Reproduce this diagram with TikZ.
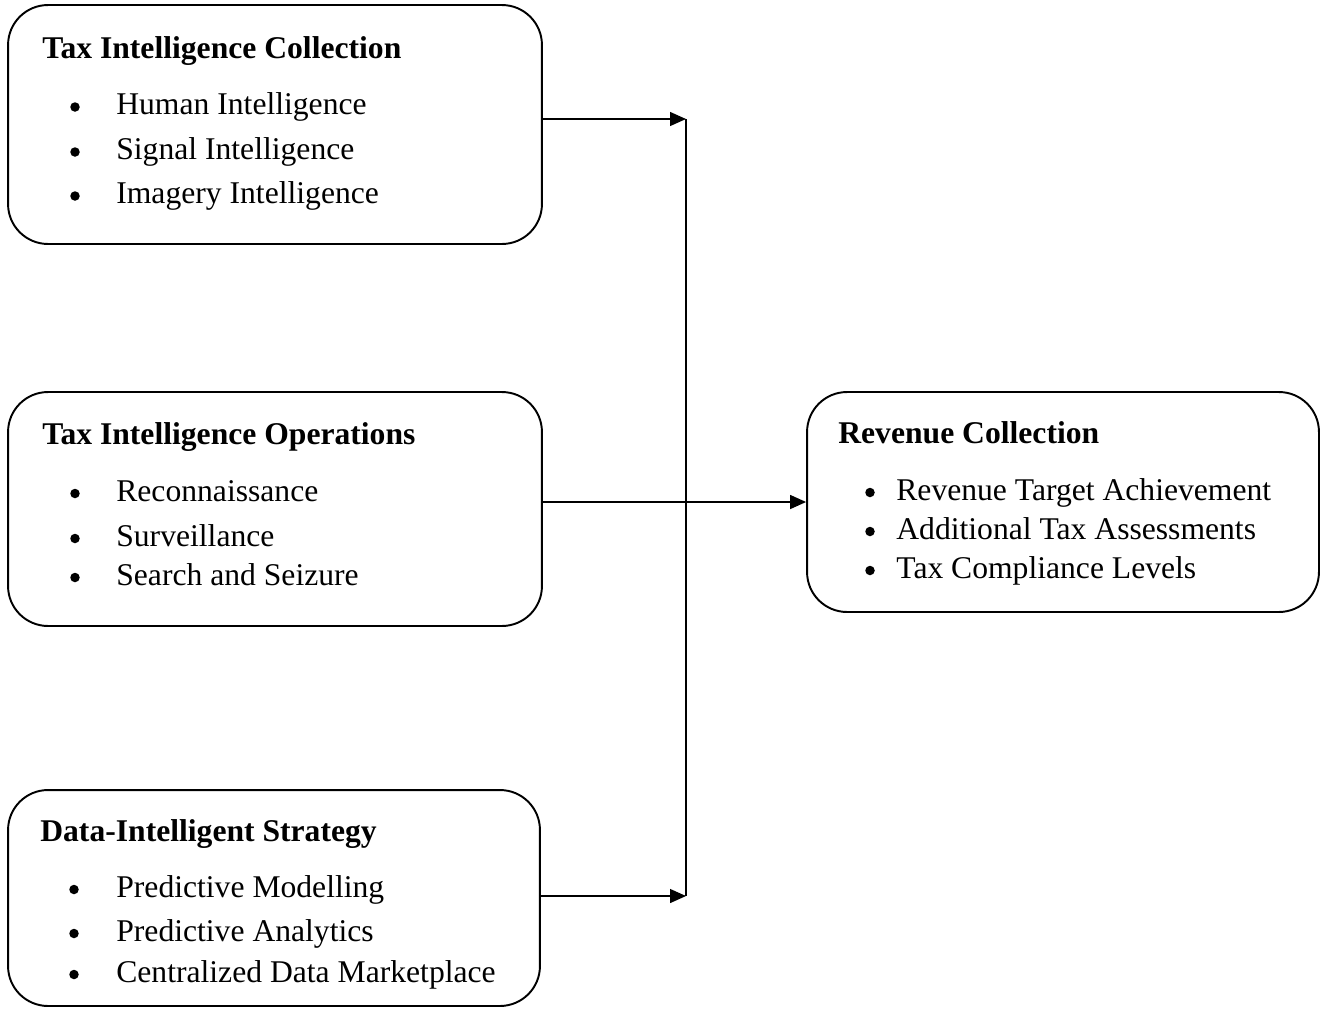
\documentclass[tikz,border=0pt]{standalone}
\usepackage{fontspec}
\setmainfont{Liberation Serif}
\usetikzlibrary{arrows.meta}

\tikzset{
  block/.style={draw, line width=1.1pt, rounded corners=0.8cm, inner sep=0pt},
  head/.style={anchor=base west, inner sep=0pt, font=\fontsize{18}{22}\selectfont\bfseries},
  item/.style={anchor=base west, inner sep=0pt, font=\fontsize{18}{22}\selectfont},
  dot/.style={circle, fill, inner sep=0pt, minimum size=0.19cm},
  flow/.style={line width=0.8pt, -{Triangle[length=0.32cm,width=0.28cm]}}
}

\begin{document}
\begin{tikzpicture}[x=0.02cm, y=-0.02cm]
  \useasboundingbox (0,0) rectangle (1321,1008);

  % Boxes
  \node[block, minimum width=10.68cm, minimum height=4.78cm] (collect) at (275,124.5) {};
  \node[block, minimum width=10.68cm, minimum height=4.68cm] (ops) at (275,509) {};
  \node[block, minimum width=10.64cm, minimum height=4.32cm] (data) at (274,898) {};
  \node[block, minimum width=10.24cm, minimum height=4.40cm] (revenue) at (1063,502) {};

  % Headings
  \node[head] (collecthead) at (42,58) {Tax Intelligence Collection};
  \node[head] (opshead) at (42,444) {Tax Intelligence Operations};
  \node[head] (datahead) at (40,841) {Data-Intelligent Strategy};
  \node[head] (revenuehead) at (838,443) {Revenue Collection};

  % Bullet lists
  \foreach \y/\txt [count=\i] in {114.5/Human Intelligence, 159.5/Signal Intelligence, 203.5/Imagery Intelligence}{
    \node[dot] (collectdot\i) at (75,\y-7.5) {};
    \node[item] (collectitem\i) at (116,\y) {\txt};
  }
  \foreach \y/\txt [count=\i] in {501/Reconnaissance, 546/Surveillance, 585/Search and Seizure}{
    \node[dot] (opsdot\i) at (75,\y-7.5) {};
    \node[item] (opsitem\i) at (116,\y) {\txt};
  }
  \foreach \y/\txt [count=\i] in {897/Predictive Modelling, 941/Predictive Analytics, 982/Centralized Data Marketplace}{
    \node[dot] (datadot\i) at (74,\y-7.5) {};
    \node[item] (dataitem\i) at (116,\y) {\txt};
  }
  \foreach \y/\txt [count=\i] in {500/Revenue Target Achievement, 539/Additional Tax Assessments, 578/Tax Compliance Levels}{
    \node[dot] (revenuedot\i) at (870,\y-7.5) {};
    \node[item] (revenueitem\i) at (896,\y) {\txt};
  }

  % Connectors
  \coordinate (top) at (686,119);
  \coordinate (bottom) at (686,896);
  \draw[flow] (collect.east |- top) -- (top);
  \draw[flow] (data.east |- bottom) -- (bottom);
  \draw[line width=0.8pt] (top) -- (bottom);
  \draw[flow] (ops.east |- revenue.west) -- (revenue.west);
\end{tikzpicture}
\end{document}
